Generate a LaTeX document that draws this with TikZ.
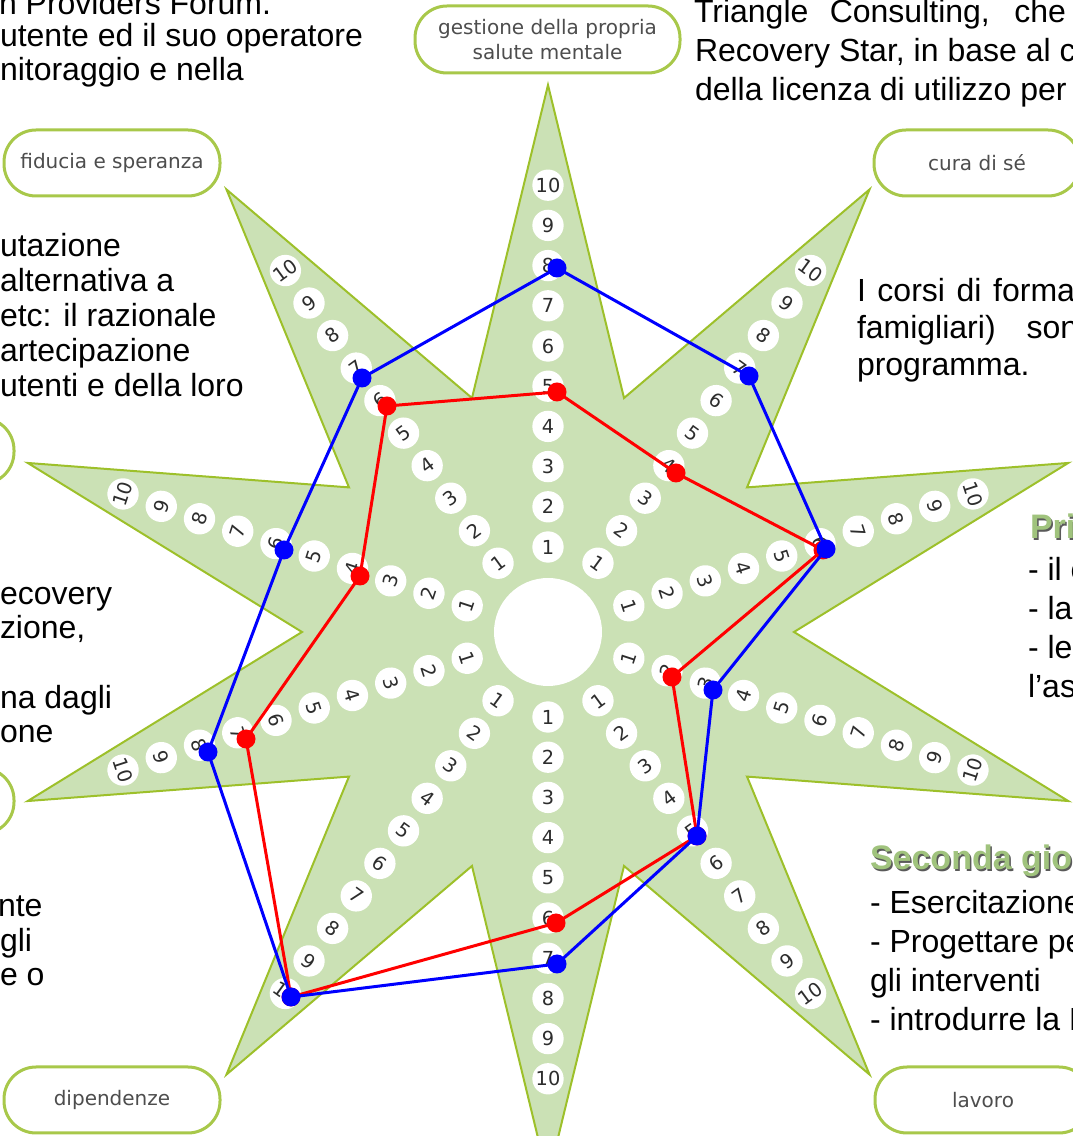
\documentclass[tikz,border=0pt]{standalone}
\usepackage{fontspec}
\setmainfont{Liberation Sans}
\newfontfamily\lblfont{DejaVu Sans}
\definecolor{starfill}{RGB}{203,225,181}
\definecolor{starline}{RGB}{157,192,42}
\definecolor{boxline}{RGB}{168,200,74}
\definecolor{numgrey}{RGB}{45,45,45}
\definecolor{labgrey}{RGB}{77,77,77}
\definecolor{headgreen}{RGB}{160,195,125}
\definecolor{headshade}{RGB}{90,90,90}
\begin{document}
\begin{tikzpicture}[x=0.75pt,y=0.75pt,
  bodytext/.style={anchor=base west, inner sep=0pt, outer sep=0pt, font=\fontsize{24}{28}\selectfont, text=black},
  headtext/.style={bodytext, font=\fontsize{25.5}{28}\selectfont\bfseries, text=headgreen},
  headshadow/.style={bodytext, font=\fontsize{25.5}{28}\selectfont\bfseries, text=headshade},
  domainbox/.style={draw=boxline, line width=2.25pt, fill=white, rounded corners=24pt, minimum width=162pt, minimum height=49.5pt, inner sep=0pt, font=\lblfont\fontsize{15}{18.75}\selectfont, text=labgrey, align=center},
  numdot/.style={circle, fill=white, minimum size=23.5pt, inner sep=0pt, font=\lblfont\fontsize{14.5}{15}\selectfont, text=numgrey},
  blueline/.style={draw=blue, line width=2.25pt, line join=round},
  redline/.style={draw=red, line width=2.25pt, line join=round}
]
\useasboundingbox (0,0) rectangle (1073,1136);
\clip (0,0) rectangle (1073,1136);
% star
\begin{scope}[shift={(548,504)}]
\filldraw[fill=starfill, draw=starline, line width=1.5pt] (90:547) \foreach \k in {0,...,9} {-- ({72-36*\k}:246) -- ({54-36*\k}:547)} -- cycle;
\fill[white] (0,0) circle (54);
\foreach \a/\r [count=\k] in {90/0, 54/-36, 18/-72, -18/72, -54/36, -90/0, -126/-36, -162/-72, 162/72, 126/36} {
  \foreach \n in {1,...,10} {
    \node[numdot, rotate=\r] (s\k-\n) at (\a:{44.8+40.2*\n}) {\n};
  }
}
\end{scope}
% data points
\coordinate (r1) at (557,744);
\coordinate (r2) at (676,663);
\coordinate (r3) at (823,586);
\coordinate (r4) at (672,459);
\coordinate (r5) at (697,300);
\coordinate (r6) at (556,213);
\coordinate (r7) at (291,139);
\coordinate (r8) at (246,397);
\coordinate (r9) at (360,560);
\coordinate (r10) at (387,730);
\coordinate (b1) at (557,868);
\coordinate (b2) at (749,760);
\coordinate (b3) at (826,587);
\coordinate (b4) at (713,446);
\coordinate (b5) at (697,300);
\coordinate (b6) at (557,172);
\coordinate (b7) at (291,139);
\coordinate (b8) at (208,384);
\coordinate (b9) at (284,586);
\coordinate (b10) at (362,758);
\draw[redline] (r1) -- (r2) -- (r3) -- (r4) -- (r5) -- (r6) -- (r7) -- (r8) -- (r9) -- (r10) -- cycle;
\foreach \p in {r1,r2,r3,r4,r5,r6,r7,r8,r9,r10} {\fill[red] (\p) circle (9.5);}
\draw[blueline] (b1) -- (b2) -- (b3) -- (b4) -- (b5) -- (b6) -- (b7) -- (b8) -- (b9) -- (b10) -- cycle;
\foreach \p in {b1,b2,b3,b4,b5,b6,b7,b8,b9,b10} {\fill[blue] (\p) circle (9.5);}
% domain labels
\node[domainbox, minimum width=198.75pt, minimum height=50.25pt] (dgest) at (547.5,1096.5) {gestione della propria\\salute mentale};
\node[domainbox] (dfid) at (112,973) {fiducia e speranza};
\node[domainbox, minimum width=154.5pt] (dcura) at (977,973) {cura di sé};
\node[domainbox] (dleft1) at (-94,685) {};
\node[domainbox] (dleft2) at (-94,335) {};
\node[domainbox] (ddip) at (112,36) {dipendenze};
\node[domainbox] (dlav) at (983,36) {lavoro};
% body text fragments
\node[bodytext] (tA1) at (-1,1121) {n Providers Forum.};
\node[bodytext] (tA2) at (0,1089) {utente ed il suo operatore};
\node[bodytext] (tA3) at (0,1055) {nitoraggio e nella};
\node[bodytext] (tB1) at (694,1113) {\makebox[279pt][s]{Triangle Consulting, che}};
\node[bodytext] (tB2) at (695,1074) {Recovery Star, in base al c};
\node[bodytext] (tB3) at (695,1035) {della licenza di utilizzo per};
\node[bodytext] (tC1) at (0,879) {utazione};
\node[bodytext] (tC2) at (0,844) {alternativa a};
\node[bodytext] (tC3) at (0,809) {etc: il razionale};
\node[bodytext] (tC4) at (0,774) {artecipazione};
\node[bodytext] (tC5) at (0,739) {utenti e della loro};
\node[bodytext] (tD1) at (857,834) {\makebox[163.5pt][s]{I corsi di forma}};
\node[bodytext] (tD2) at (857,797) {\makebox[166pt][s]{famigliari) son}};
\node[bodytext] (tD3) at (857,760) {programma.};
\node[headshadow] (hP0) at (1031.5,595.5) {Pri};
\node[headtext] (hP) at (1030,597) {Pri};
\node[bodytext] (tE1) at (1028,555) {- il c};
\node[bodytext] (tE2) at (1028,516) {- la};
\node[bodytext] (tE3) at (1028,477) {- le};
\node[bodytext] (tE4) at (1028,438) {l'as};
\node[headshadow] (hS0) at (871.5,264.5) {Seconda gio};
\node[headtext] (hS) at (870,266) {Seconda gio};
\node[bodytext] (tF1) at (870,222) {- Esercitazione};
\node[bodytext] (tF2) at (870,183) {- Progettare pe};
\node[bodytext] (tF3) at (870,144) {gli interventi};
\node[bodytext] (tF4) at (870,105) {- introdurre la R};
\node[bodytext] (tG1) at (0,531) {ecovery};
\node[bodytext] (tG2) at (0,497) {zione,};
\node[bodytext] (tG3) at (0,427) {na dagli};
\node[bodytext] (tG4) at (0,393) {one};
\node[bodytext] (tH1) at (-2,219) {nte};
\node[bodytext] (tH2) at (0,184) {gli};
\node[bodytext] (tH3) at (0,150) {e o};
\end{tikzpicture}
\end{document}
